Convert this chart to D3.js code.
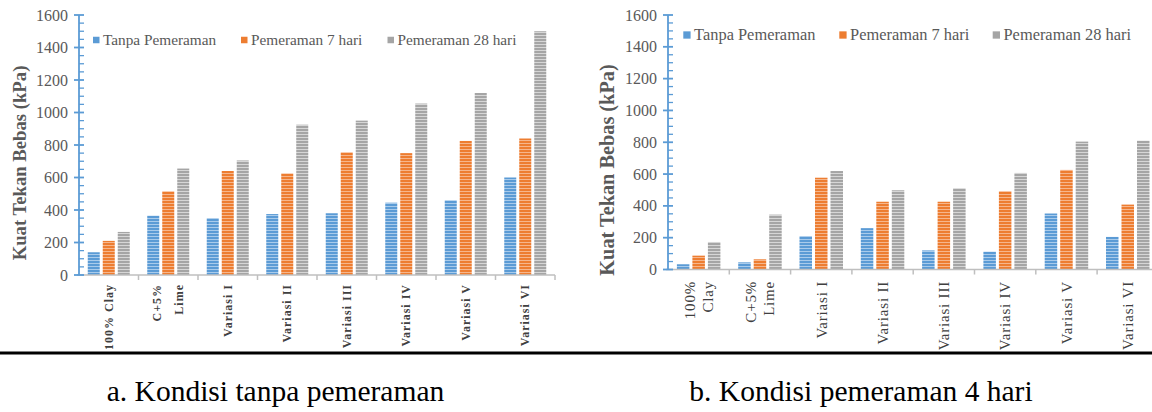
<!DOCTYPE html>
<html>
<head>
<meta charset="utf-8">
<script src="https://cdn.jsdelivr.net/npm/d3@7"></script>
<style>
  html, body { margin: 0; padding: 0; background: #fff; }
  svg { display: block; }
  svg text { font-family: "Liberation Serif", "Times New Roman", Tinos, "DejaVu Serif", serif; }
</style>
</head>
<body>
<svg id="fig" width="1152" height="412"></svg>
<script>
// Unconfined compressive strength (kPa) per mix, for three curing times
const seriesNames = ["Tanpa Pemeraman", "Pemeraman 7 hari", "Pemeraman 28 hari"];

// Panel a: no pre-curing
const categoriesA = ["100% Clay", "C+5%|Lime", "Variasi I", "Variasi II", "Variasi III", "Variasi IV", "Variasi V", "Variasi VI"];
const tanpaA  = [140, 365, 350, 375, 380, 445, 460, 600];
const hari7A  = [210, 515, 640, 625, 755, 750, 825, 840];
const hari28A = [265, 655, 705, 925, 950, 1055, 1120, 1500];

// Panel b: 4 days pre-curing
const categoriesB = ["100%|Clay", "C+5%|Lime", "Variasi I", "Variasi II", "Variasi III", "Variasi IV", "Variasi V", "Variasi VI"];
const tanpaB  = [33, 45, 210, 260, 120, 112, 352, 205];
const hari7B  = [87, 64, 577, 426, 426, 492, 626, 408];
const hari28B = [173, 345, 619, 498, 511, 607, 804, 810];

const yTicks = [0, 200, 400, 600, 800, 1000, 1200, 1400, 1600];
const yTitle = "Kuat Tekan Bebas (kPa)";
const captions = ["a. Kondisi tanpa pemeraman", "b. Kondisi pemeraman 4 hari"];

const colors = ["#5B9BD5", "#ED7D31", "#A5A5A5"];
const stripe = ["#A9CBEB", "#F6B68C", "#D6D6D6"];
const textGray = "#595959";

const svg = d3.select("#fig");

// striped fills for the bars
const defs = svg.append("defs");
colors.forEach((c, i) => {
  const p = defs.append("pattern")
    .attr("id", "stripe" + i)
    .attr("patternUnits", "userSpaceOnUse")
    .attr("width", 8).attr("height", 3);
  p.append("rect").attr("width", 8).attr("height", 3).attr("fill", c);
  p.append("rect").attr("y", 2).attr("width", 8).attr("height", 1).attr("fill", stripe[i]);
});

function panel(cfg) {
  const g = svg.append("g");
  const rows = cfg.categories.map((c, i) => ({ cat: c, vals: [cfg.s0[i], cfg.s1[i], cfg.s2[i]] }));

  const x0 = d3.scaleBand().domain(cfg.categories).range([cfg.left, cfg.right]).paddingInner(0).paddingOuter(0);
  const groupW = cfg.barW * 3 + cfg.gap * 2;
  const x1 = d3.scaleBand().domain([0, 1, 2]).range([0, groupW]).paddingInner(cfg.gap / (cfg.barW + cfg.gap));
  const y = d3.scaleLinear().domain([0, 1600]).range([cfg.bottom, cfg.top]);

  // bars
  const grp = g.selectAll("g.cat").data(rows).enter().append("g")
    .attr("transform", d => `translate(${x0(d.cat) + (x0.bandwidth() - groupW) / 2},0)`);
  grp.selectAll("rect").data(d => d.vals).enter().append("rect")
    .attr("x", (d, i) => x1(i))
    .attr("width", x1.bandwidth())
    .attr("y", d => y(d))
    .attr("height", d => y(0) - y(d))
    .attr("fill", (d, i) => `url(#stripe${i})`);

  // category axis (gray) with boundary ticks
  const xa = g.append("g");
  xa.append("line")
    .attr("x1", cfg.left - 2).attr("x2", cfg.right)
    .attr("y1", y(0)).attr("y2", y(0))
    .attr("stroke", "#BFBFBF").attr("stroke-width", 1.5);
  const bounds = cfg.categories.map(c => x0(c) + x0.step());
  xa.selectAll("line.tk").data(bounds).enter().append("line")
    .attr("x1", d => d).attr("x2", d => d)
    .attr("y1", y(0)).attr("y2", y(0) + 5)
    .attr("stroke", "#BFBFBF").attr("stroke-width", 1.5);

  // rotated category labels
  const lab = g.selectAll("text.cat").data(cfg.categories).enter().append("text")
    .attr("transform", d => `translate(${x0(d) + x0.bandwidth() / 2},${cfg.labelTop}) rotate(-90)`)
    .attr("text-anchor", "end")
    .attr("font-size", cfg.labelSize)
    .attr("font-weight", cfg.labelWeight)
    .attr("letter-spacing", cfg.labelSpacing)
    .attr("fill", "#404040");
  lab.each(function (d) {
    const parts = d.split("|");
    const t = d3.select(this);
    parts.forEach((p, k) => {
      const off = (k - (parts.length - 1) / 2) * cfg.lineGap;
      t.append("tspan").attr("x", 0).attr("y", off).attr("dy", "0.35em").text(p);
    });
  });

  // value axis (blue) with major and minor ticks
  const ya = g.append("g");
  ya.append("line")
    .attr("x1", cfg.left).attr("x2", cfg.left)
    .attr("y1", y(0)).attr("y2", y(1600))
    .attr("stroke", colors[0]).attr("stroke-width", 1.8);
  ya.selectAll("line.minor").data(d3.range(0, 1601, 50).filter(v => v % 200 !== 0)).enter().append("line")
    .attr("x1", cfg.left).attr("x2", cfg.left + 5)
    .attr("y1", d => y(d)).attr("y2", d => y(d))
    .attr("stroke", colors[0]).attr("stroke-width", 1.3);
  ya.selectAll("line.major").data(yTicks).enter().append("line")
    .attr("x1", cfg.left - 5).attr("x2", cfg.left + 5)
    .attr("y1", d => y(d)).attr("y2", d => y(d))
    .attr("stroke", colors[0]).attr("stroke-width", 1.8);
  ya.selectAll("text").data(yTicks).enter().append("text")
    .attr("x", cfg.left - 11).attr("y", d => y(d)).attr("dy", "0.35em")
    .attr("text-anchor", "end")
    .attr("font-size", 16)
    .attr("fill", textGray)
    .text(d => d);

  // axis title
  g.append("text")
    .attr("transform", `translate(${cfg.titleX},${cfg.titleY}) rotate(-90)`)
    .attr("text-anchor", "middle").attr("dy", "0.35em")
    .attr("font-weight", "bold")
    .attr("font-size", cfg.titleSize).attr("fill", textGray)
    .text(yTitle);

  // legend
  const lg = g.selectAll("g.lg").data(seriesNames).enter().append("g")
    .attr("transform", (d, i) => `translate(${cfg.legendX[i]},${cfg.legendY})`);
  lg.append("rect")
    .attr("x", 0).attr("y", -cfg.legendBox / 2)
    .attr("width", cfg.legendBox).attr("height", cfg.legendBox)
    .attr("fill", (d, i) => colors[i]);
  lg.append("text")
    .attr("x", cfg.legendBox + 3.5).attr("dy", "0.33em")
    .attr("font-size", cfg.legendSize)
    .attr("fill", textGray)
    .text(d => d);
}

panel({
  categories: categoriesA, s0: tanpaA, s1: hari7A, s2: hari28A,
  left: 79, right: 555, top: 15, bottom: 275,
  barW: 12, gap: 3,
  labelTop: 284, labelSize: 12, labelWeight: "bold", labelSpacing: 1.0, lineGap: 22,
  titleX: 19, titleY: 163, titleSize: 18.7,
  legendX: [93, 241, 387.5], legendY: 40, legendBox: 6.5, legendSize: 15.3
});

panel({
  categories: categoriesB, s0: tanpaB, s1: hari7B, s2: hari28B,
  left: 668, right: 1158.4, top: 15, bottom: 269.5,
  barW: 12.5, gap: 3,
  labelTop: 281, labelSize: 15, labelWeight: "normal", labelSpacing: 0.8, lineGap: 18,
  titleX: 607, titleY: 170, titleSize: 20.3,
  legendX: [683.3, 839.3, 992.7], legendY: 35, legendBox: 7.3, legendSize: 16.4
});

// separator rule and panel captions
svg.append("line")
  .attr("x1", 0).attr("x2", 1152).attr("y1", 353).attr("y2", 353)
  .attr("stroke", "#000").attr("stroke-width", 3);

svg.selectAll("text.cap").data(captions).enter().append("text")
  .attr("x", (d, i) => [275.5, 861][i]).attr("y", 401)
  .attr("text-anchor", "middle")
  .attr("font-size", 29.5)
  .attr("fill", "#000")
  .text(d => d);
</script>
</body>
</html>
